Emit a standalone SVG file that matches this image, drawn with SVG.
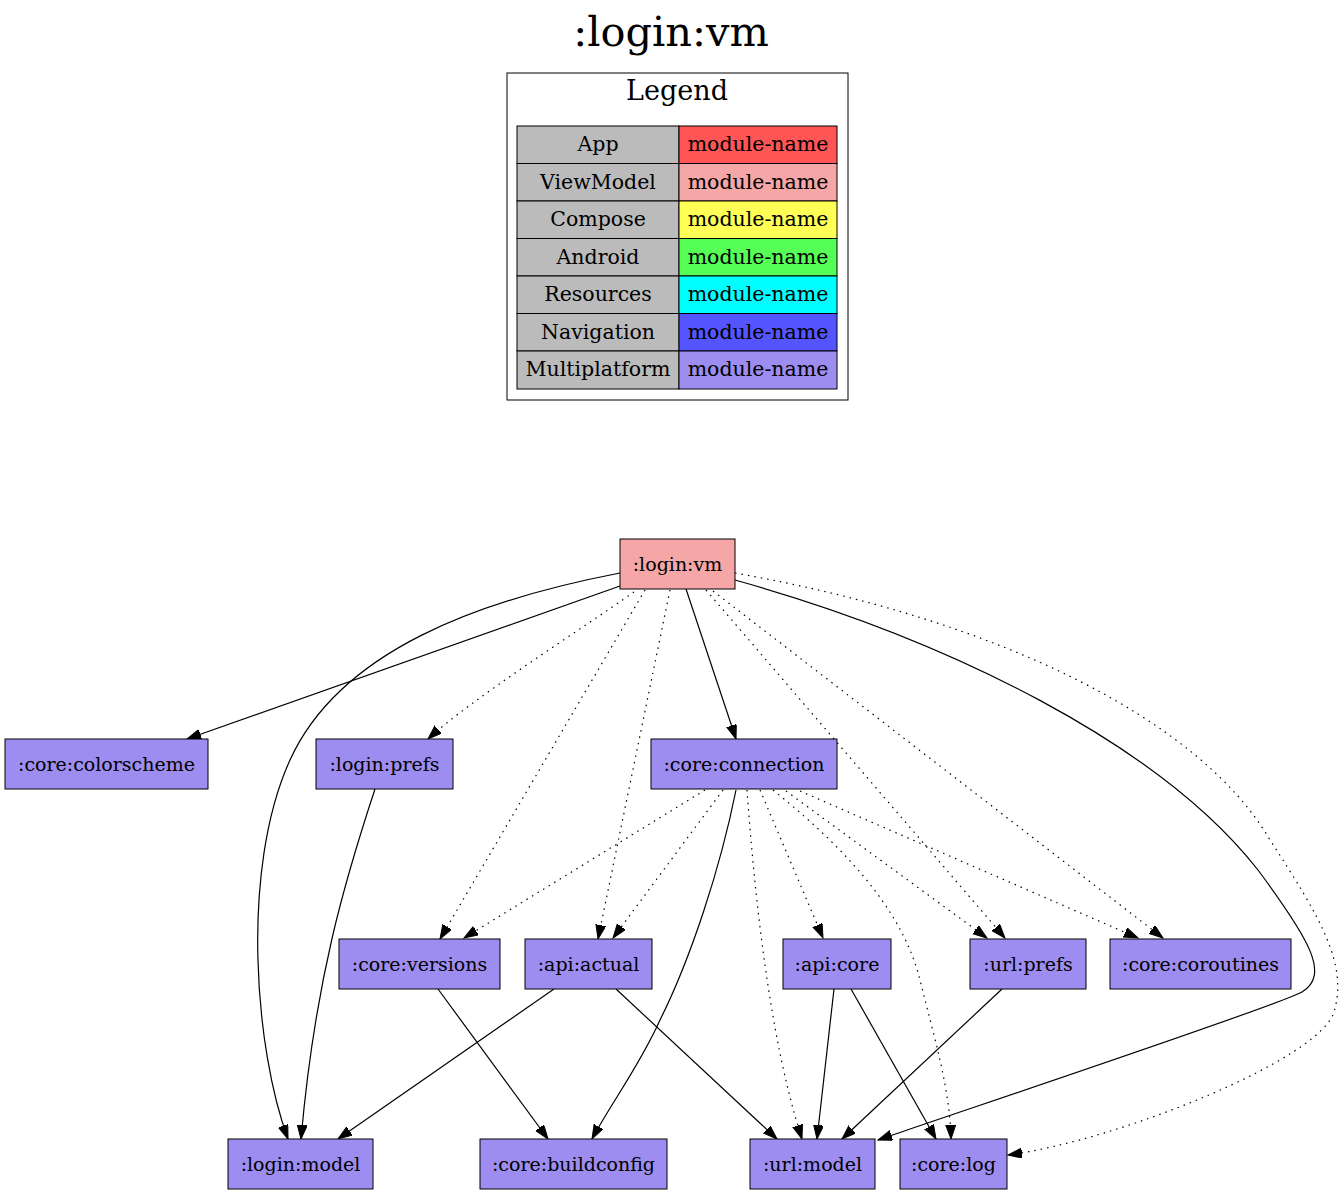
<svg xmlns="http://www.w3.org/2000/svg" width="1342" height="1194" viewBox="0 0 1342 1194">
<style>
text{font-family:"DejaVu Serif","Liberation Serif",serif;fill:#000;text-anchor:middle}
.t{font-size:41.5px}
.lg{font-size:27px}
.lt{font-size:20.5px}
.nt{font-size:19px}
.cell{stroke:#000;stroke-width:1}
.node rect{stroke:#000;stroke-width:1}
.mp{fill:#9D8DF1}
.vm{fill:#F5A6A6}
#edges path{fill:none;stroke:#000;stroke-width:1.2;marker-end:url(#ah)}
#edges path.d{stroke-dasharray:1.5,5}
</style>
<defs>
<marker id="ah" markerUnits="userSpaceOnUse" markerWidth="15" markerHeight="11" refX="14" refY="5" orient="auto">
<path d="M0,0 L14,5 L0,10 Z" fill="#000" stroke="#000" stroke-width="1"/>
</marker>
</defs>
<rect width="1342" height="1194" fill="#fff"/>
<text class="t" x="671" y="46">:login:vm</text>
<g id="legend">
<rect x="507" y="73" width="341" height="327" fill="#fff" stroke="#000" stroke-width="1"/>
<text class="lg" x="677" y="100">Legend</text>
<rect class="cell" x="517" y="126" width="162" height="37.5" fill="#BBBBBB"/>
<rect class="cell" x="679" y="126" width="158" height="37.5" fill="#FF5555"/>
<rect class="cell" x="517" y="163.5" width="162" height="37.5" fill="#BBBBBB"/>
<rect class="cell" x="679" y="163.5" width="158" height="37.5" fill="#F5A6A6"/>
<rect class="cell" x="517" y="201" width="162" height="37.5" fill="#BBBBBB"/>
<rect class="cell" x="679" y="201" width="158" height="37.5" fill="#FFFF55"/>
<rect class="cell" x="517" y="238.5" width="162" height="37.5" fill="#BBBBBB"/>
<rect class="cell" x="679" y="238.5" width="158" height="37.5" fill="#55FF55"/>
<rect class="cell" x="517" y="276" width="162" height="37.5" fill="#BBBBBB"/>
<rect class="cell" x="679" y="276" width="158" height="37.5" fill="#00FFFF"/>
<rect class="cell" x="517" y="313.5" width="162" height="37.5" fill="#BBBBBB"/>
<rect class="cell" x="679" y="313.5" width="158" height="37.5" fill="#5555FF"/>
<rect class="cell" x="517" y="351" width="162" height="38" fill="#BBBBBB"/>
<rect class="cell" x="679" y="351" width="158" height="38" fill="#9D8DF1"/>
<text class="lt" x="598" y="151">App</text>
<text class="lt" x="758" y="151">module-name</text>
<text class="lt" x="598" y="188.5">ViewModel</text>
<text class="lt" x="758" y="188.5">module-name</text>
<text class="lt" x="598" y="226">Compose</text>
<text class="lt" x="758" y="226">module-name</text>
<text class="lt" x="598" y="263.5">Android</text>
<text class="lt" x="758" y="263.5">module-name</text>
<text class="lt" x="598" y="301">Resources</text>
<text class="lt" x="758" y="301">module-name</text>
<text class="lt" x="598" y="338.5">Navigation</text>
<text class="lt" x="758" y="338.5">module-name</text>
<text class="lt" x="598" y="376">Multiplatform</text>
<text class="lt" x="758" y="376">module-name</text>
</g>
<g id="edges">
<path d="M620,586 L187,739"/>
<path d="M620,573 C480,600 340,650 290,760 C240,870 255,1050 288,1139"/>
<path class="d" d="M634,592 C580,630 470,700 428,739"/>
<path class="d" d="M645,590 L440,939"/>
<path class="d" d="M670,590 L598,939"/>
<path d="M686,589 L736,739"/>
<path class="d" d="M706,590 L1005,938"/>
<path class="d" d="M713,591 L1163,938"/>
<path d="M735,580 C950,640 1160,745 1258,870 C1310,940 1330,975 1302,992 C1280,1005 950,1115 878,1140"/>
<path class="d" d="M735,573 C1000,620 1200,720 1270,840 C1322,920 1348,965 1334,1012 C1320,1059 1120,1140 1008,1155"/>
<path class="d" d="M705,790 L464,938"/>
<path class="d" d="M723,790 L613,938"/>
<path d="M736,790 C720,870 690,960 660,1020 C640,1065 610,1105 592,1139"/>
<path class="d" d="M747,790 C755,900 770,1040 802,1139"/>
<path class="d" d="M760,790 L823,938"/>
<path class="d" d="M773,790 C860,860 905,920 920,980 C935,1040 950,1090 951,1139"/>
<path class="d" d="M786,791 L987,938"/>
<path class="d" d="M800,791 L1138,938"/>
<path d="M375,789 C345,880 315,980 301,1139"/>
<path d="M438,989 L548,1139"/>
<path d="M554,989 L338,1139"/>
<path d="M616,989 L777,1139"/>
<path d="M834,989 L817,1139"/>
<path d="M851,989 L936,1139"/>
<path d="M1002,989 L842,1139"/>
</g>
<g id="n_login_vm" class="node"><rect class="vm" x="620" y="539" width="115" height="50"/><text class="nt" x="677.5" y="570.5">:login:vm</text></g>
<g id="n_core_colorscheme" class="node"><rect class="mp" x="5" y="739" width="203" height="50"/><text class="nt" x="106.5" y="770.5">:core:colorscheme</text></g>
<g id="n_login_prefs" class="node"><rect class="mp" x="316" y="739" width="137" height="50"/><text class="nt" x="384.5" y="770.5">:login:prefs</text></g>
<g id="n_core_connection" class="node"><rect class="mp" x="651" y="739" width="186" height="50"/><text class="nt" x="744" y="770.5">:core:connection</text></g>
<g id="n_core_versions" class="node"><rect class="mp" x="339" y="939" width="161" height="50"/><text class="nt" x="419.5" y="970.5">:core:versions</text></g>
<g id="n_api_actual" class="node"><rect class="mp" x="525" y="939" width="127" height="50"/><text class="nt" x="588.5" y="970.5">:api:actual</text></g>
<g id="n_api_core" class="node"><rect class="mp" x="783" y="939" width="108" height="50"/><text class="nt" x="837" y="970.5">:api:core</text></g>
<g id="n_url_prefs" class="node"><rect class="mp" x="970" y="939" width="116" height="50"/><text class="nt" x="1028" y="970.5">:url:prefs</text></g>
<g id="n_core_coroutines" class="node"><rect class="mp" x="1110" y="939" width="181" height="50"/><text class="nt" x="1200.5" y="970.5">:core:coroutines</text></g>
<g id="n_login_model" class="node"><rect class="mp" x="228" y="1139" width="145" height="50"/><text class="nt" x="300.5" y="1170.5">:login:model</text></g>
<g id="n_core_buildconfig" class="node"><rect class="mp" x="480" y="1139" width="187" height="50"/><text class="nt" x="573.5" y="1170.5">:core:buildconfig</text></g>
<g id="n_url_model" class="node"><rect class="mp" x="750" y="1139" width="125" height="50"/><text class="nt" x="812.5" y="1170.5">:url:model</text></g>
<g id="n_core_log" class="node"><rect class="mp" x="900" y="1139" width="107" height="50"/><text class="nt" x="953.5" y="1170.5">:core:log</text></g>
</svg>
